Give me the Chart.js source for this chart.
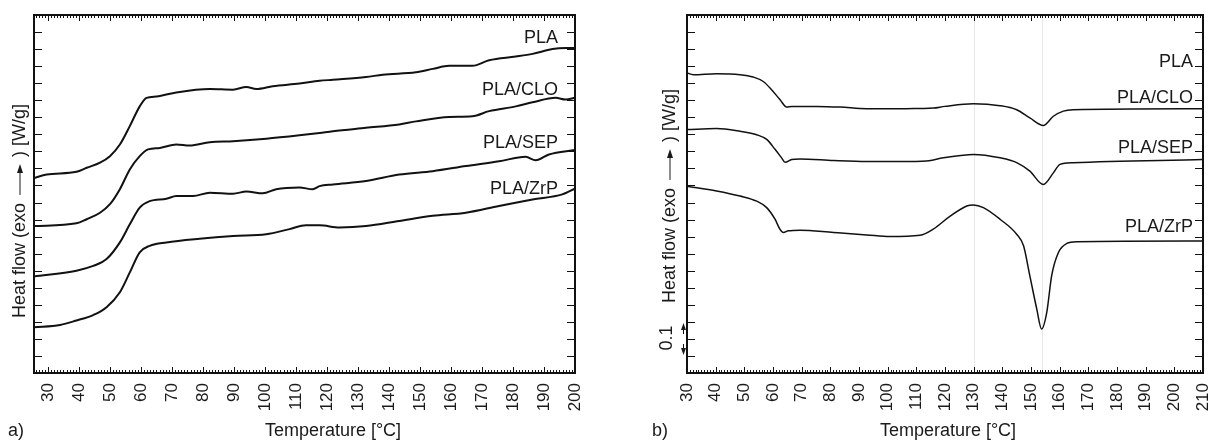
<!DOCTYPE html>
<html>
<head>
<meta charset="utf-8">
<script src="https://cdn.jsdelivr.net/npm/chart.js@4.4.1/dist/chart.umd.min.js"></script>
<style>
body { margin: 0; background: #fff; }
#wrap { position: relative; width: 1215px; height: 441px; }
canvas { position: absolute; top: 0; }
#chartA { left: 0; }
#chartB { left: 607px; }
</style>
</head>
<body>
<div id="wrap">
  <canvas id="chartA" width="607" height="441"></canvas>
  <canvas id="chartB" width="608" height="441"></canvas>
</div>
<script>
const FONT = '"Liberation Sans", Arial, Helvetica, sans-serif';

const names = ['PLA', 'PLA/CLO', 'PLA/SEP', 'PLA/ZrP'];
const ticksA = [30, 40, 50, 60, 70, 80, 90, 100, 110, 120, 130, 140, 150, 160, 170, 180, 190, 200];
const ticksB = [30, 40, 50, 60, 70, 80, 90, 100, 110, 120, 130, 140, 150, 160, 170, 180, 190, 200, 210];

// a) - heat flow in scale divisions, offset per sample
const tPla = [25.5, 29.6, 39.2, 42.5, 46.8, 50, 53.2, 56.4, 59.6, 61.8, 65, 71.4, 82.2, 89.7, 94, 97.2, 102.5, 111.1, 117.6, 121.9, 132.6, 138, 148.7, 154.1, 159.4, 166.9, 172.3, 180.9, 186.3, 192.7, 197, 200];
const hPla = [5.72, 5.82, 5.9, 6.02, 6.17, 6.36, 6.7, 7.24, 7.82, 8.07, 8.11, 8.23, 8.33, 8.31, 8.39, 8.33, 8.41, 8.49, 8.57, 8.6, 8.68, 8.75, 8.82, 8.92, 9.01, 9.01, 9.17, 9.28, 9.36, 9.5, 9.53, 9.53];
const tClo = [25.5, 39.2, 42.5, 46.8, 50, 53.2, 56.4, 59.6, 62.3, 66.1, 71.4, 75.7, 82.2, 89.7, 100.4, 111.1, 117.6, 121.9, 132.6, 143.3, 148.7, 159.4, 166.9, 172.3, 180.9, 186.3, 193.8, 197, 200];
const hClo = [4.31, 4.39, 4.51, 4.7, 4.95, 5.39, 5.97, 6.36, 6.56, 6.6, 6.7, 6.67, 6.77, 6.8, 6.87, 6.97, 7.04, 7.09, 7.19, 7.29, 7.38, 7.51, 7.53, 7.68, 7.82, 7.94, 8.07, 8.02, 8.07];
const tSep = [25.5, 39.2, 44.6, 48.9, 53.2, 56.4, 59.6, 62.8, 68.2, 71.4, 76.8, 82.2, 89.7, 94, 99.3, 103.6, 111.1, 115.4, 117.6, 121.9, 132.6, 143.3, 154.1, 164.8, 175.5, 184.1, 187.3, 191.6, 200];
const hSep = [2.83, 3.0, 3.14, 3.34, 3.83, 4.36, 4.85, 5.04, 5.11, 5.19, 5.19, 5.29, 5.26, 5.32, 5.27, 5.39, 5.44, 5.39, 5.48, 5.53, 5.63, 5.82, 5.92, 6.07, 6.21, 6.34, 6.24, 6.41, 6.54];
const tZrp = [25.5, 33.9, 39.2, 44.6, 48.9, 53.2, 56.4, 59.6, 62.8, 68.2, 78.9, 89.7, 100.4, 107.9, 113.2, 117.6, 124.1, 132.6, 143.3, 154.1, 164.8, 175.5, 186.3, 195.9, 200];
const hZrp = [1.34, 1.41, 1.54, 1.7, 1.93, 2.37, 2.95, 3.54, 3.73, 3.83, 3.94, 4.02, 4.07, 4.22, 4.33, 4.33, 4.27, 4.31, 4.46, 4.61, 4.7, 4.9, 5.09, 5.24, 5.41];

// b)
const tCloB = [30, 32.2, 40.3, 48.5, 53.1, 56.6, 59.5, 62.4, 64.8, 66.5, 75.2, 83.4, 92.7, 104.3, 111.3, 115.9, 119.9, 129.9, 139.2, 145, 149.6, 154.3, 157.8, 161.3, 164.7, 210];
const hCloB = [8.8, 8.75, 8.78, 8.75, 8.68, 8.55, 8.31, 8.02, 7.8, 7.82, 7.82, 7.8, 7.75, 7.75, 7.76, 7.77, 7.82, 7.9, 7.84, 7.72, 7.48, 7.26, 7.53, 7.68, 7.72, 7.75];
const tSepB = [30, 40.3, 48.5, 54.3, 57.8, 60.7, 63, 64.2, 66.5, 69.4, 81.1, 92.7, 104.3, 113.6, 119.4, 129.9, 139.2, 145, 149.6, 154.3, 157.8, 160.1, 164.7, 210];
const hSepB = [7.14, 7.17, 7.09, 6.99, 6.85, 6.56, 6.31, 6.18, 6.26, 6.28, 6.23, 6.2, 6.2, 6.22, 6.31, 6.41, 6.31, 6.17, 5.92, 5.53, 5.87, 6.12, 6.17, 6.26];
const tZrpB = [30, 40.3, 48.5, 54.3, 57.8, 60.7, 62.4, 63.6, 65.3, 69.4, 81.1, 92.7, 100.8, 111.3, 115.9, 121.8, 127.6, 129.9, 133.4, 139.2, 145, 147.4, 149.6, 152, 153.7, 155.5, 157.2, 159.6, 162.5, 166, 210];
const hZrpB = [5.48, 5.34, 5.19, 5.04, 4.85, 4.51, 4.22, 4.12, 4.17, 4.19, 4.12, 4.05, 4.0, 4.04, 4.22, 4.6, 4.9, 4.93, 4.85, 4.51, 4.07, 3.73, 2.85, 1.88, 1.29, 1.78, 2.85, 3.54, 3.8, 3.85, 3.87];


function line(ctx, x1, y1, x2, y2) {
    ctx.beginPath();
    ctx.moveTo(x1, y1);
    ctx.lineTo(x2, y2);
    ctx.stroke();
}

function drawYTitle(ctx, cx, yStart) {
    ctx.save();
    ctx.translate(cx, yStart);
    ctx.rotate(-Math.PI / 2);
    ctx.font = '18px ' + FONT;
    ctx.fillStyle = '#1a1a1a';
    ctx.strokeStyle = '#1a1a1a';
    ctx.textAlign = 'left';
    ctx.textBaseline = 'middle';
    const t1 = 'Heat flow (exo';
    ctx.fillText(t1, 0, 0);
    let x = ctx.measureText(t1).width + 8;
    ctx.lineWidth = 1;
    line(ctx, x, 0, x + 24, 0);
    ctx.beginPath();
    ctx.moveTo(x + 31, 0);
    ctx.lineTo(x + 22, -3);
    ctx.lineTo(x + 22, 3);
    ctx.closePath();
    ctx.fill();
    ctx.fillText(') [W/g]', x + 38, 0);
    ctx.restore();
}

const dscPlugin = {
    id: 'dsc',
    beforeDatasetsDraw(chart, args, opts) {
        const { ctx, chartArea: a, scales: { x } } = chart;
        ctx.save();
        ctx.strokeStyle = '#e8e8e8';
        ctx.lineWidth = 1;
        (opts.guides || []).forEach(v => {
            const px = Math.round(x.getPixelForValue(v)) + 0.5;
            line(ctx, px, a.top, px, a.bottom);
        });
        ctx.restore();
    },
    afterDraw(chart, args, opts) {
        const { ctx, chartArea: a, scales: { x, y } } = chart;
        ctx.save();
        ctx.strokeStyle = '#111';
        ctx.lineWidth = 1;

        // inward ticks on all four sides
        for (let v = Math.ceil(x.min); v < x.max; v++) {
            const px = Math.round(x.getPixelForValue(v)) + 0.5;
            const len = v % 10 === 0 ? 6 : 3;
            line(ctx, px, a.bottom, px, a.bottom - len);
            line(ctx, px, a.top, px, a.top + len);
        }
        for (let v = 0.5; v < y.max; v += 0.5) {
            const py = Math.round(y.getPixelForValue(v)) + 0.5;
            line(ctx, a.left, py, a.left + 8, py);
            line(ctx, a.right, py, a.right - 8, py);
        }
        ctx.lineWidth = 2;
        ctx.strokeRect(a.left, a.top, a.right - a.left, a.bottom - a.top);

        // curve names
        ctx.fillStyle = '#1a1a1a';
        ctx.font = '18px ' + FONT;
        ctx.textAlign = 'right';
        ctx.textBaseline = 'alphabetic';
        names.forEach((n, i) => {
            ctx.fillText(n, x.getPixelForValue(opts.labelX), y.getPixelForValue(opts.labelY[i]));
        });

        // axis titles and panel letter
        ctx.textAlign = 'center';
        ctx.fillText('Temperature [°C]', opts.xTitleX, 436);
        ctx.textAlign = 'left';
        ctx.fillText(opts.letter, opts.letterX, 436);
        drawYTitle(ctx, opts.yTitleX, opts.yTitleStart);

        // 0.1 W/g scale mark
        if (opts.scaleMark) {
            const m = opts.scaleMark;
            ctx.save();
            ctx.translate(m.textX, m.textY);
            ctx.rotate(-Math.PI / 2);
            ctx.textAlign = 'center';
            ctx.textBaseline = 'middle';
            ctx.fillText('0.1', 0, 0);
            ctx.restore();
            ctx.lineWidth = 1;
            line(ctx, m.arrowX + 0.5, m.upTip + 6, m.arrowX + 0.5, m.upTip + 11);
            line(ctx, m.arrowX + 0.5, m.downTip - 11, m.arrowX + 0.5, m.downTip - 6);
            ctx.beginPath();
            ctx.moveTo(m.arrowX + 0.5, m.upTip);
            ctx.lineTo(m.arrowX - 2, m.upTip + 7);
            ctx.lineTo(m.arrowX + 3, m.upTip + 7);
            ctx.closePath();
            ctx.fill();
            ctx.beginPath();
            ctx.moveTo(m.arrowX + 0.5, m.downTip);
            ctx.lineTo(m.arrowX - 2, m.downTip - 7);
            ctx.lineTo(m.arrowX + 3, m.downTip - 7);
            ctx.closePath();
            ctx.fill();
        }
        ctx.restore();
    }
};

function buildChart(id, o) {
    return new Chart(document.getElementById(id), {
        type: 'line',
        data: {
            datasets: o.series.map(s => ({
                data: s[0].map((t, i) => ({ x: t, y: s[1][i] })),
                borderColor: '#111',
                borderWidth: o.lineWidth,
                pointRadius: 0,
                cubicInterpolationMode: 'monotone',
                fill: false
            }))
        },
        options: {
            responsive: false,
            animation: false,
            devicePixelRatio: 1,
            layout: { padding: { top: 15, right: o.padRight, left: 0, bottom: 0 } },
            plugins: { legend: { display: false }, tooltip: { enabled: false }, dsc: o.deco },
            scales: {
                x: {
                    type: 'linear',
                    min: o.xMin,
                    max: o.xMax,
                    afterBuildTicks: s => { s.ticks = o.xTicks.map(v => ({ value: v })); },
                    afterFit: s => { s.height = 68; s.paddingLeft = 0; s.paddingRight = 0; },
                    grid: { display: false },
                    border: { display: false },
                    ticks: {
                        autoSkip: false,
                        minRotation: 90,
                        maxRotation: 90,
                        padding: 2,
                        color: '#1a1a1a',
                        font: { family: FONT, size: 17 }
                    }
                },
                y: {
                    min: 0,
                    max: 10.5,
                    afterFit: s => { s.width = o.yWidth; },
                    grid: { display: false },
                    border: { display: false },
                    ticks: { display: false }
                }
            }
        },
        plugins: [dscPlugin]
    });
}

buildChart('chartA', {
    series: [[tPla, hPla], [tClo, hClo], [tSep, hSep], [tZrp, hZrp]],
    lineWidth: 2,
    xMin: 25.5, xMax: 200, xTicks: ticksA,
    yWidth: 34, padRight: 32,
    deco: {
        labelX: 194.5, labelY: [9.68, 8.16, 6.61, 5.24],
        xTitleX: 333, letter: 'a)', letterX: 8,
        yTitleX: 20, yTitleStart: 318
    }
});

buildChart('chartB', {
    series: [[tCloB, hCloB], [tSepB, hSepB], [tZrpB, hZrpB]],
    lineWidth: 1.5,
    xMin: 30, xMax: 210, xTicks: ticksB,
    yWidth: 80, padRight: 12,
    deco: {
        guides: [130, 153.7],
        labelX: 206.5, labelY: [8.98, 7.93, 6.44, 4.13],
        xTitleX: 341, letter: 'b)', letterX: 45,
        yTitleX: 63, yTitleStart: 303,
        scaleMark: { textX: 60, textY: 338, arrowX: 76, upTip: 323, downTip: 355 }
    }
});
</script>
</body>
</html>
